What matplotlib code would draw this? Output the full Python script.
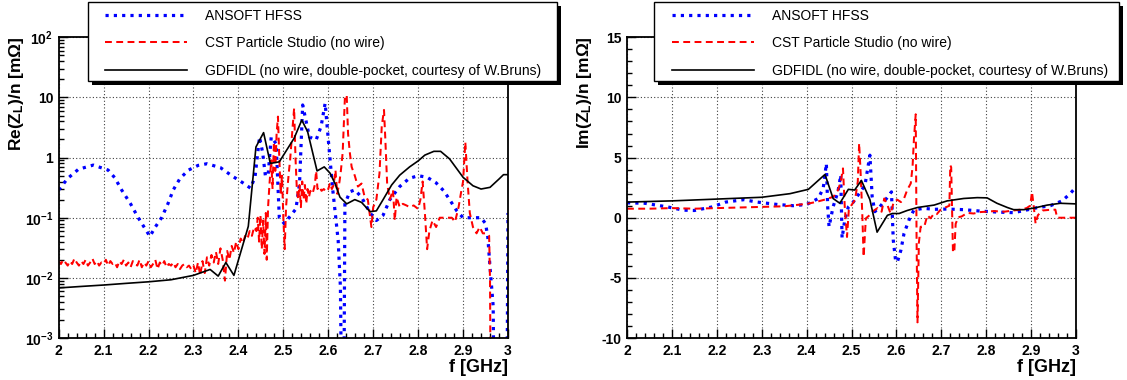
import numpy as np
import matplotlib
matplotlib.use('Agg')
import matplotlib.pyplot as plt
from matplotlib.patches import Rectangle
from matplotlib.ticker import MultipleLocator, LogLocator, FuncFormatter, NullFormatter

plt.rcParams['font.family'] = 'Liberation Sans'
plt.rcParams['font.weight'] = 'bold'
plt.rcParams['mathtext.fontset'] = 'custom'
plt.rcParams['mathtext.rm'] = 'Liberation Sans:bold'
plt.rcParams['mathtext.it'] = 'Liberation Sans:bold'
plt.rcParams['mathtext.bf'] = 'Liberation Sans:bold'
plt.rcParams['axes.unicode_minus'] = False

labels = ['ANSOFT HFSS', 'CST Particle Studio (no wire)',
          'GDFIDL (no wire, double-pocket, courtesy of W.Bruns)']

# ---- Re(Z_L)/n  [mOhm] ----
hfss_re_f = [2.0, 2.02, 2.044, 2.077, 2.11, 2.125, 2.14, 2.16, 2.177, 2.19, 2.203, 2.215, 2.229,
             2.243, 2.255, 2.27, 2.289, 2.31, 2.33, 2.36, 2.385, 2.41, 2.427, 2.437, 2.447, 2.454,
             2.46, 2.466, 2.473, 2.484, 2.491, 2.502, 2.528, 2.536, 2.543, 2.558, 2.573, 2.584,
             2.593, 2.6, 2.61, 2.622, 2.627, 2.631, 2.634, 2.637, 2.648, 2.659, 2.674, 2.693,
             2.707, 2.722, 2.737, 2.759, 2.78, 2.8, 2.82, 2.84, 2.857, 2.872, 2.886, 2.9, 2.923,
             2.94, 2.95, 2.955, 2.96, 2.967, 2.97, 2.997, 3.0]
hfss_re_v = [0.29, 0.45, 0.64, 0.75, 0.62, 0.46, 0.29, 0.17, 0.10, 0.07, 0.049, 0.07, 0.10,
             0.17, 0.29, 0.45, 0.62, 0.74, 0.79, 0.68, 0.5, 0.38, 0.31, 0.48, 2.2, 1.2,
             0.5, 0.5, 2.2, 1.7, 0.1, 0.08, 0.14, 0.37, 7.5, 2.2, 1.97, 3.3,
             8.0, 2.0, 0.29, 0.042, 0.007, 1e-5, 1e-5, 0.17, 0.27, 0.29, 0.22, 0.12,
             0.09, 0.11, 0.2, 0.33, 0.45, 0.5, 0.47, 0.38, 0.28, 0.19, 0.13, 0.1, 0.1,
             0.1, 0.08, 0.048, 0.015, 0.0034, 1e-5, 1e-5, 0.12]

cst_re_f = list(np.round(np.arange(2.0, 2.4401, 0.005), 3)) + [
    2.443, 2.446, 2.449, 2.452, 2.455, 2.458, 2.461, 2.463, 2.466, 2.469,
    2.473, 2.476, 2.479, 2.482, 2.485, 2.488, 2.491, 2.494, 2.497, 2.500,
    2.503, 2.506, 2.509, 2.512, 2.515, 2.518, 2.521, 2.524, 2.527, 2.530,
    2.533, 2.536, 2.539, 2.542, 2.545, 2.548, 2.551, 2.554, 2.557, 2.560,
    2.565, 2.570, 2.573, 2.576, 2.580, 2.585, 2.590, 2.595, 2.600, 2.604,
    2.608, 2.612, 2.616, 2.620, 2.625, 2.628, 2.632, 2.637, 2.641, 2.644,
    2.648, 2.652, 2.659, 2.666, 2.674, 2.681, 2.688, 2.696, 2.700, 2.707,
    2.714, 2.719, 2.724, 2.727, 2.731, 2.737, 2.744, 2.748, 2.752, 2.759,
    2.766, 2.774, 2.781, 2.790, 2.800, 2.805, 2.810, 2.815, 2.820, 2.825,
    2.832, 2.840, 2.848, 2.860, 2.875, 2.882, 2.890, 2.895, 2.900, 2.905,
    2.910, 2.915, 2.922, 2.930, 2.937, 2.944, 2.952, 2.958, 2.960, 2.962,
    3.000]
cst_re_v = [
    0.019, 0.017, 0.020, 0.018, 0.016, 0.019, 0.017, 0.021, 0.018, 0.016,
    0.019, 0.017, 0.020, 0.016, 0.018, 0.021, 0.017, 0.019, 0.016, 0.018,
    0.017, 0.020, 0.016, 0.019, 0.017, 0.018, 0.015, 0.019, 0.017, 0.020,
    0.016, 0.018, 0.015, 0.019, 0.017, 0.016, 0.020, 0.015, 0.018, 0.016,
    0.019, 0.015, 0.017, 0.020, 0.014, 0.018, 0.016, 0.019, 0.015, 0.017,
    0.016, 0.018, 0.015, 0.017, 0.014, 0.016, 0.017, 0.015, 0.016, 0.014,
    0.016,
    0.012, 0.018, 0.011, 0.019, 0.012, 0.022, 0.016, 0.024, 0.018, 0.027,
    0.017, 0.031, 0.020, 0.009, 0.028, 0.020, 0.034, 0.026, 0.040, 0.030,
    0.045, 0.038, 0.050, 0.044, 0.060, 0.050, 0.070, 0.060,
    0.10, 0.04, 0.11, 0.03, 0.09, 0.025, 0.12, 0.02, 0.15, 0.35,
    0.9, 0.3, 1.8, 0.6, 2.5, 4.8, 1.0, 0.25, 0.5, 0.1,
    0.03, 0.15, 0.3, 0.55, 0.9, 1.8, 3.5, 6.6, 1.0, 0.3,
    0.2, 0.35, 0.15, 0.4, 0.2, 0.35, 0.17, 0.3, 0.22, 0.28,
    0.25, 0.35, 0.6, 0.3, 0.33, 0.28, 0.3, 0.27, 0.3, 0.38,
    0.3, 0.35, 0.62, 0.25, 0.4, 0.6, 1.2, 10, 11, 2.5,
    1.2, 0.7, 0.5, 0.33, 0.37, 0.22, 0.2, 0.07, 0.15, 0.2,
    0.55, 3.3, 6.2, 2.0, 0.37, 0.2, 0.29, 0.09, 0.22, 0.15,
    0.17, 0.16, 0.15, 0.16, 0.14, 0.2, 0.4, 0.12, 0.03, 0.06,
    0.09, 0.07, 0.1, 0.1, 0.1, 0.085, 0.15, 0.25, 0.4, 1.8,
    0.4, 0.12, 0.07, 0.055, 0.07, 0.055, 0.055, 0.05, 0.009, 1e-5,
    1e-5]

gdf_re_f = [2.0, 2.05, 2.1, 2.15, 2.2, 2.25, 2.3, 2.337, 2.355, 2.372, 2.39, 2.422, 2.439,
            2.456, 2.471, 2.491, 2.524, 2.541, 2.554, 2.575, 2.591, 2.604, 2.615, 2.626,
            2.641, 2.659, 2.674, 2.693, 2.707, 2.722, 2.741, 2.759, 2.781, 2.8, 2.815,
            2.835, 2.85, 2.87, 2.9, 2.922, 2.94, 2.96, 2.98, 2.99, 3.0]
gdf_re_v = [0.0068, 0.0072, 0.0076, 0.0081, 0.0086, 0.0093, 0.011, 0.0138, 0.0107, 0.018,
            0.011, 0.072, 1.5, 2.6, 0.8, 0.85, 2.1, 4.2, 2.7, 0.6, 0.7, 0.55, 0.37, 0.22,
            0.17, 0.2, 0.18, 0.126, 0.13, 0.2, 0.35, 0.51, 0.7, 0.88, 1.1, 1.27, 1.27,
            0.95, 0.47, 0.34, 0.3, 0.32, 0.44, 0.52, 0.52]

# ---- Im(Z_L)/n  [mOhm] ----
hfss_im_f = [2.0, 2.04, 2.09, 2.125, 2.15, 2.19, 2.22, 2.26, 2.29, 2.335, 2.37, 2.40, 2.426,
             2.437, 2.444, 2.447, 2.45, 2.459, 2.47, 2.476, 2.479, 2.485, 2.493, 2.504, 2.515,
             2.53, 2.541, 2.546, 2.552, 2.563, 2.578, 2.589, 2.593, 2.598, 2.602, 2.61, 2.617,
             2.628, 2.639, 2.661, 2.684, 2.713, 2.75, 2.787, 2.824, 2.861, 2.885, 2.913,
             2.943, 2.969, 2.987, 3.0]
hfss_im_v = [1.24, 1.2, 0.9, 0.63, 0.6, 0.9, 1.3, 1.5, 1.3, 1.1, 1.0, 1.1, 1.6,
             2.45, 4.5, 0.9, -0.75, 0.9, 2.2, 3.55, -1.7, -0.2, 0.9, 1.3, 1.9,
             2.7, 5.2, 1.75, 0.5, 0.9, 1.6, 2.15, -1.85, -3.5, -3.7, -2.7, -1.3,
             -0.2, 0.65, 0.78, 0.7, 0.72, 0.67, 0.55, 0.47, 0.42, 0.6, 0.83,
             1.0, 1.4, 2.0, 2.55]

cst_im_f = [2.0, 2.05, 2.1, 2.15, 2.2, 2.25, 2.3, 2.35, 2.4, 2.42, 2.44, 2.46, 2.47, 2.476,
            2.481, 2.485, 2.49, 2.494, 2.5, 2.508, 2.514, 2.517, 2.52, 2.524, 2.527, 2.532,
            2.54, 2.546, 2.552, 2.558, 2.567, 2.573, 2.58, 2.587, 2.594, 2.602, 2.61, 2.617,
            2.624, 2.632, 2.636, 2.639, 2.643, 2.645, 2.647, 2.65, 2.654, 2.662, 2.669,
            2.676, 2.684, 2.69, 2.698, 2.705, 2.712, 2.718, 2.72, 2.722, 2.726, 2.729,
            2.732, 2.738, 2.745, 2.758, 2.772, 2.787, 2.8, 2.817, 2.84, 2.86, 2.876, 2.89,
            2.898, 2.902, 2.906, 2.91, 2.915, 2.925, 2.94, 2.954, 2.958, 3.0]
cst_im_v = [0.75, 0.75, 0.8, 0.75, 0.8, 0.85, 0.9, 0.95, 1.15, 1.3, 1.5, 1.75, 2.3, 3.0,
            4.1, 0.9, -1.6, 0.65, 1.05, 1.5, 3.0, 6.2, 4.0, 0.36, -3.25, -0.05,
            0.2, 0.5, 0.65, 0.8, 0.5, 1.6, 1.05, 0.35, 1.3, 1.5, 1.3, 1.6,
            2.3, 2.85, 4.25, 6.5, 8.6, -2.1, -8.7, -2.1, -0.75, -0.75, 0.2,
            -0.05, 0.35, 0.3, 0.65, 0.8, 0.9, 1.0, 4.35, 4.2, -2.9, -2.8,
            -0.5, 0.05, 0.1, 0.4, 0.35, 0.47, 0.5, 0.55, 0.5, 0.6, 0.67, 0.8,
            1.0, 2.15, 0.9, -0.5, 0.2, 0.6, 0.65, 0.67, 0.0, 0.0]

gdf_im_f = [2.0, 2.1, 2.2, 2.3, 2.363, 2.404, 2.441, 2.459, 2.474, 2.493, 2.507, 2.522, 2.541,
            2.557, 2.58, 2.591, 2.606, 2.624, 2.647, 2.669, 2.684, 2.713, 2.75, 2.78, 2.802,
            2.824, 2.847, 2.861, 2.884, 2.906, 2.936, 2.965, 3.0]
gdf_im_v = [1.3, 1.4, 1.55, 1.7, 2.0, 2.36, 3.6, 1.6, 1.2, 2.36, 2.3, 3.1, 1.5,
            -1.2, 0.2, 0.35, 0.35, 0.6, 0.85, 0.97, 1.05, 1.4, 1.6, 1.67, 1.65,
            1.2, 0.85, 0.67, 0.67, 0.8, 1.05, 1.2, 1.15]

W, H = 1127, 380
fig = plt.figure(figsize=(W / 100, H / 100), dpi=100)


def px_box(x0, x1, ytop, ybot):
    return [x0 / W, 1 - ybot / H, (x1 - x0) / W, (ybot - ytop) / H]


axL = fig.add_axes(px_box(58.7, 508, 37.3, 338))
axR = fig.add_axes(px_box(627, 1076, 37.3, 338))

blue = dict(color='#0000ff', linestyle=(0, (1, 1.6)), linewidth=2.3)
red = dict(color='#ff0000', linestyle=(0, (3.4, 2.2)), linewidth=1.45)
black = dict(color='black', linestyle='-', linewidth=1.2)

hL = []
hL += axL.plot(hfss_re_f, hfss_re_v, **blue)
hL += axL.plot(cst_re_f, cst_re_v, **red)
hL += axL.plot(gdf_re_f, gdf_re_v, **black)

hR = []
hR += axR.plot(hfss_im_f, hfss_im_v, **blue)
hR += axR.plot(cst_im_f, cst_im_v, **red)
hR += axR.plot(gdf_im_f, gdf_im_v, **black)

axL.set_yscale('log')
axL.set_ylim(1e-3, 1e2)
axL.yaxis.set_major_locator(LogLocator(base=10, numticks=10))
axL.yaxis.set_minor_locator(LogLocator(base=10, subs=np.arange(2, 10), numticks=20))
axL.yaxis.set_minor_formatter(NullFormatter())


def log_fmt(v, pos):
    e = int(round(np.log10(v)))
    if e == 0:
        return '1'
    if e == 1:
        return '10'
    return r'$10^{%d}$' % e


axL.yaxis.set_major_formatter(FuncFormatter(log_fmt))

axR.set_ylim(-10, 15)
axR.yaxis.set_major_locator(MultipleLocator(5))
axR.yaxis.set_minor_locator(MultipleLocator(1))

for ax in (axL, axR):
    ax.set_xlim(2, 3)
    ax.xaxis.set_major_locator(MultipleLocator(0.1))
    ax.xaxis.set_minor_locator(MultipleLocator(0.02))
    ax.xaxis.set_major_formatter(FuncFormatter(lambda v, p: '%g' % round(v, 2)))
    ax.tick_params(which='both', direction='in', top=False, right=False,
                   labelsize=10, width=1.0)
    ax.tick_params(which='major', length=6.5)
    ax.tick_params(which='minor', length=3.5)
    ax.tick_params(axis='x', pad=4)
    ax.tick_params(axis='y', pad=4)
    ax.grid(True, which='major', color='0.25', linestyle=(0, (1, 2)), linewidth=0.8)
    for s in ax.spines.values():
        s.set_linewidth(1.3)

fig.text(508 / W, 1 - 368 / H, 'f [GHz]', ha='right', va='center', fontsize=13)
fig.text(1076 / W, 1 - 368 / H, 'f [GHz]', ha='right', va='center', fontsize=13)
fig.text(17 / W, 1 - 36 / H, r'Re(Z$_{L}$)/n [m$\Omega$]', rotation=90,
         ha='center', va='top', fontsize=12.5)
fig.text(584 / W, 1 - 36 / H, r'Im(Z$_{L}$)/n [m$\Omega$]', rotation=90,
         ha='center', va='top', fontsize=12.5)

# ROOT style legend boxes with shadow
for (x0, x1, hx, handles) in [(88, 557, 105, hL), (654, 1119, 672, hR)]:
    fig.patches.append(Rectangle(((x0 + 4) / W, 1 - 85 / H), (x1 - x0) / W, 79 / H,
                                 transform=fig.transFigure, facecolor='black',
                                 edgecolor='none', zorder=1))
    fig.patches.append(Rectangle((x0 / W, 1 - 81 / H), (x1 - x0) / W, 79 / H,
                                 transform=fig.transFigure, facecolor='white',
                                 edgecolor='black', linewidth=1.0, zorder=2))
    fig.legend(handles, labels, loc='upper left', bbox_to_anchor=(hx / W, 1 - 8.5 / H),
               bbox_transform=fig.transFigure, frameon=False, borderpad=0,
               borderaxespad=0, handlelength=5.9, handletextpad=1.3,
               labelspacing=0.98, prop={'family': 'Liberation Sans', 'size': 10,
                                        'weight': 'normal'})

fig.savefig('out.png', dpi=100)
